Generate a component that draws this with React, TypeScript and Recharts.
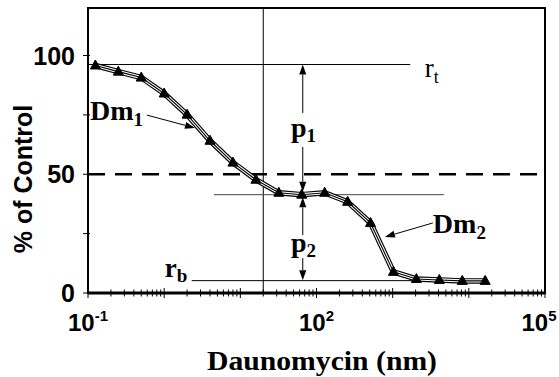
import React from 'react';
import {
  ComposedChart,
  Line,
  XAxis,
  YAxis,
  ReferenceLine,
  ReferenceArea,
  ReferenceDot,
} from 'recharts';

// daunomycin dose (nM) and response (% of control)
const doses = [0.125, 0.25, 0.5, 1, 2, 4, 8, 16, 32, 64, 128, 256, 512, 1024, 2048, 4096, 8192, 16384];
const pctControl = [95.8, 93.2, 90.7, 84.0, 75.1, 64.1, 54.9, 47.7, 42.2, 41.4, 42.2, 38.4, 29.5, 8.9, 5.9, 5.5, 5.1, 5.1];

const yTicks = [0, 25, 50, 75, 100];
const yLabelled = [0, 50, 100];
const xDecades = [-1, 0, 1, 2, 3, 4];
const xLabelledExp = [-1, 2, 5];

// fitted plateaus
const rTop = 96.2;
const rPlateau = 41.4;
const rBottom = 5.2;

const data = doses.map((d, i) => ({ dose: d, pct: pctControl[i] }));

const xTicks = xDecades
  .flatMap((d) => [1, 2, 3, 4, 5, 6, 7, 8, 9].map((m) => m * Math.pow(10, d)))
  .concat([100000]);

const sans = "'Liberation Sans', Arial, sans-serif";
const serif = "'Liberation Serif', 'Times New Roman', serif";

const isDecade = (v: number) => Math.abs(Math.log10(v) - Math.round(Math.log10(v))) < 1e-6;

const XTick = (props: any) => {
  const { x, y, payload } = props;
  const v = payload.value;
  const exp = Math.round(Math.log10(v));
  const major = isDecade(v);
  const len = major ? 5 : 3.5;
  const labelled = major && xLabelledExp.includes(exp);
  return (
    <g>
      <line x1={x} x2={x} y1={y - len} y2={y + len} stroke="#000" strokeWidth={1} />
      {labelled && (
        <text
          x={exp === 5 ? x - 6 : x}
          y={y + 38}
          textAnchor="middle"
          fontFamily={sans}
          fontWeight="bold"
          fontSize={24}
          fill="#000"
        >
          10
          <tspan fontSize={15} dy={-10}>
            {exp}
          </tspan>
        </text>
      )}
    </g>
  );
};

const YTick = (props: any) => {
  const { x, y, payload } = props;
  const v = payload.value;
  return (
    <g>
      <line x1={x - 5} x2={x + 2} y1={y} y2={y} stroke="#000" strokeWidth={1} />
      {yLabelled.includes(v) && (
        <text
          x={x - 13}
          y={y}
          dy="0.36em"
          textAnchor="end"
          fontFamily={sans}
          fontWeight="bold"
          fontSize={25}
          fill="#000"
        >
          {v}
        </text>
      )}
    </g>
  );
};

const Triangle = (props: any) => {
  const { cx, cy } = props;
  if (cx == null || cy == null) return null;
  return (
    <polygon
      points={`${cx},${cy - 5.5} ${cx - 5},${cy + 3.5} ${cx + 5},${cy + 3.5}`}
      fill="#000"
      stroke="#000"
    />
  );
};

// line with a filled arrowhead at its (x2, y2) end
const arrowShape = (props: any) => {
  const { x1, y1, x2, y2 } = props;
  const dx = x2 - x1;
  const dy = y2 - y1;
  const n = Math.sqrt(dx * dx + dy * dy) || 1;
  const ux = dx / n;
  const uy = dy / n;
  const L = 10;
  const W = 3.5;
  const bx = x2 - ux * L;
  const by = y2 - uy * L;
  return (
    <g>
      <line x1={x1} y1={y1} x2={bx} y2={by} stroke="#000" strokeWidth={1} />
      <polygon
        points={`${x2},${y2} ${bx - uy * W},${by + ux * W} ${bx + uy * W},${by - ux * W}`}
        fill="#000"
      />
    </g>
  );
};

const label =
  (main: string, sub: string, size: number, subSize: number, bold: boolean, subDy: number) =>
  (props: any) => (
    <text
      x={props.cx}
      y={props.cy}
      fontFamily={serif}
      fontWeight={bold ? 'bold' : 'normal'}
      fontSize={size}
      fill="#000"
    >
      {main}
      <tspan fontSize={subSize} dy={subDy}>
        {sub}
      </tspan>
    </text>
  );

const App: React.FC = () => {
  return (
    <div style={{ position: 'absolute', left: 0, top: 0, background: '#fff' }}>
      <ComposedChart
        width={559}
        height={377}
        data={data}
        margin={{ top: 8, right: 14, bottom: 0, left: 0 }}
      >
        <XAxis
          dataKey="dose"
          type="number"
          scale="log"
          domain={[0.1, 100000]}
          allowDataOverflow
          ticks={xTicks}
          interval={0}
          height={84}
          tickSize={0}
          tickMargin={0}
          tickLine={false}
          axisLine={{ stroke: '#000', strokeWidth: 3 }}
          tick={<XTick />}
          label={() => (
            <text
              x={322}
              y={370}
              textAnchor="middle"
              fontFamily={serif}
              fontWeight="bold"
              fontSize={28}
              textLength={230}
              lengthAdjust="spacingAndGlyphs"
              fill="#000"
            >
              Daunomycin (nm)
            </text>
          )}
        />
        <YAxis
          type="number"
          domain={[0, 120]}
          allowDataOverflow
          ticks={yTicks}
          interval={0}
          width={88}
          tickSize={0}
          tickMargin={0}
          tickLine={false}
          axisLine={{ stroke: '#000', strokeWidth: 2 }}
          tick={<YTick />}
          label={() => (
            <text
              transform="translate(23,179) rotate(-90)"
              textAnchor="middle"
              dominantBaseline="central"
              fontFamily={sans}
              fontWeight="bold"
              fontSize={25}
              fill="#000"
            >
              % of Control
            </text>
          )}
        />

        <ReferenceArea x1={0.1} x2={100000} y1={0} y2={120} fill="none" stroke="#000" strokeWidth={2} />
        <ReferenceLine x={20} stroke="#000" strokeWidth={1} />
        <ReferenceLine y={50} stroke="#000" strokeWidth={2.5} strokeDasharray="17 10" />
        <ReferenceLine segment={[{ x: 0.1, y: rTop }, { x: 1700, y: rTop }]} stroke="#000" strokeWidth={1} />
        <ReferenceLine segment={[{ x: 4.5, y: rPlateau }, { x: 4700, y: rPlateau }]} stroke="#444" strokeWidth={1} />
        <ReferenceLine segment={[{ x: 2.3, y: rBottom }, { x: 4096, y: rBottom }]} stroke="#000" strokeWidth={1} />

        {/* p1 / p2 span arrows */}
        <ReferenceLine segment={[{ x: 66, y: 75.8 }, { x: 66, y: rTop }]} shape={arrowShape} />
        <ReferenceLine segment={[{ x: 66, y: 61.5 }, { x: 66, y: 42.6 }]} shape={arrowShape} />
        <ReferenceLine segment={[{ x: 66, y: 24.4 }, { x: 66, y: 40.3 }]} shape={arrowShape} />
        <ReferenceLine segment={[{ x: 66, y: 14.7 }, { x: 66, y: rBottom + 0.2 }]} shape={arrowShape} />

        {/* Dm pointers */}
        <ReferenceLine segment={[{ x: 0.594, y: 74.9 }, { x: 2.54, y: 69.5 }]} shape={arrowShape} />
        <ReferenceLine segment={[{ x: 3370, y: 29.5 }, { x: 791, y: 23.6 }]} shape={arrowShape} />

        <Line dataKey="pct" type="linear" stroke="#000" strokeWidth={5.5} dot={false} isAnimationActive={false} />
        <Line dataKey="pct" type="linear" stroke="#fff" strokeWidth={3.2} dot={false} isAnimationActive={false} />
        <Line dataKey="pct" type="linear" stroke="#000" strokeWidth={1.1} dot={<Triangle />} isAnimationActive={false} />

        <ReferenceDot x={0.106} y={72.8} shape={label('Dm', '1', 28, 19, true, 6)} />
        <ReferenceDot x={3370} y={25.3} shape={label('Dm', '2', 28, 19, true, 6)} />
        <ReferenceDot x={2640} y={90.9} shape={label('r', 't', 27, 18, false, 6)} />
        <ReferenceDot x={1.02} y={6.7} shape={label('r', 'b', 27, 19, true, 5)} />
        <ReferenceDot x={46.1} y={65.7} shape={label('p', '1', 28, 19, true, 5)} />
        <ReferenceDot x={46.1} y={17.3} shape={label('p', '2', 28, 19, true, 5)} />
      </ComposedChart>
    </div>
  );
};

export default App;
